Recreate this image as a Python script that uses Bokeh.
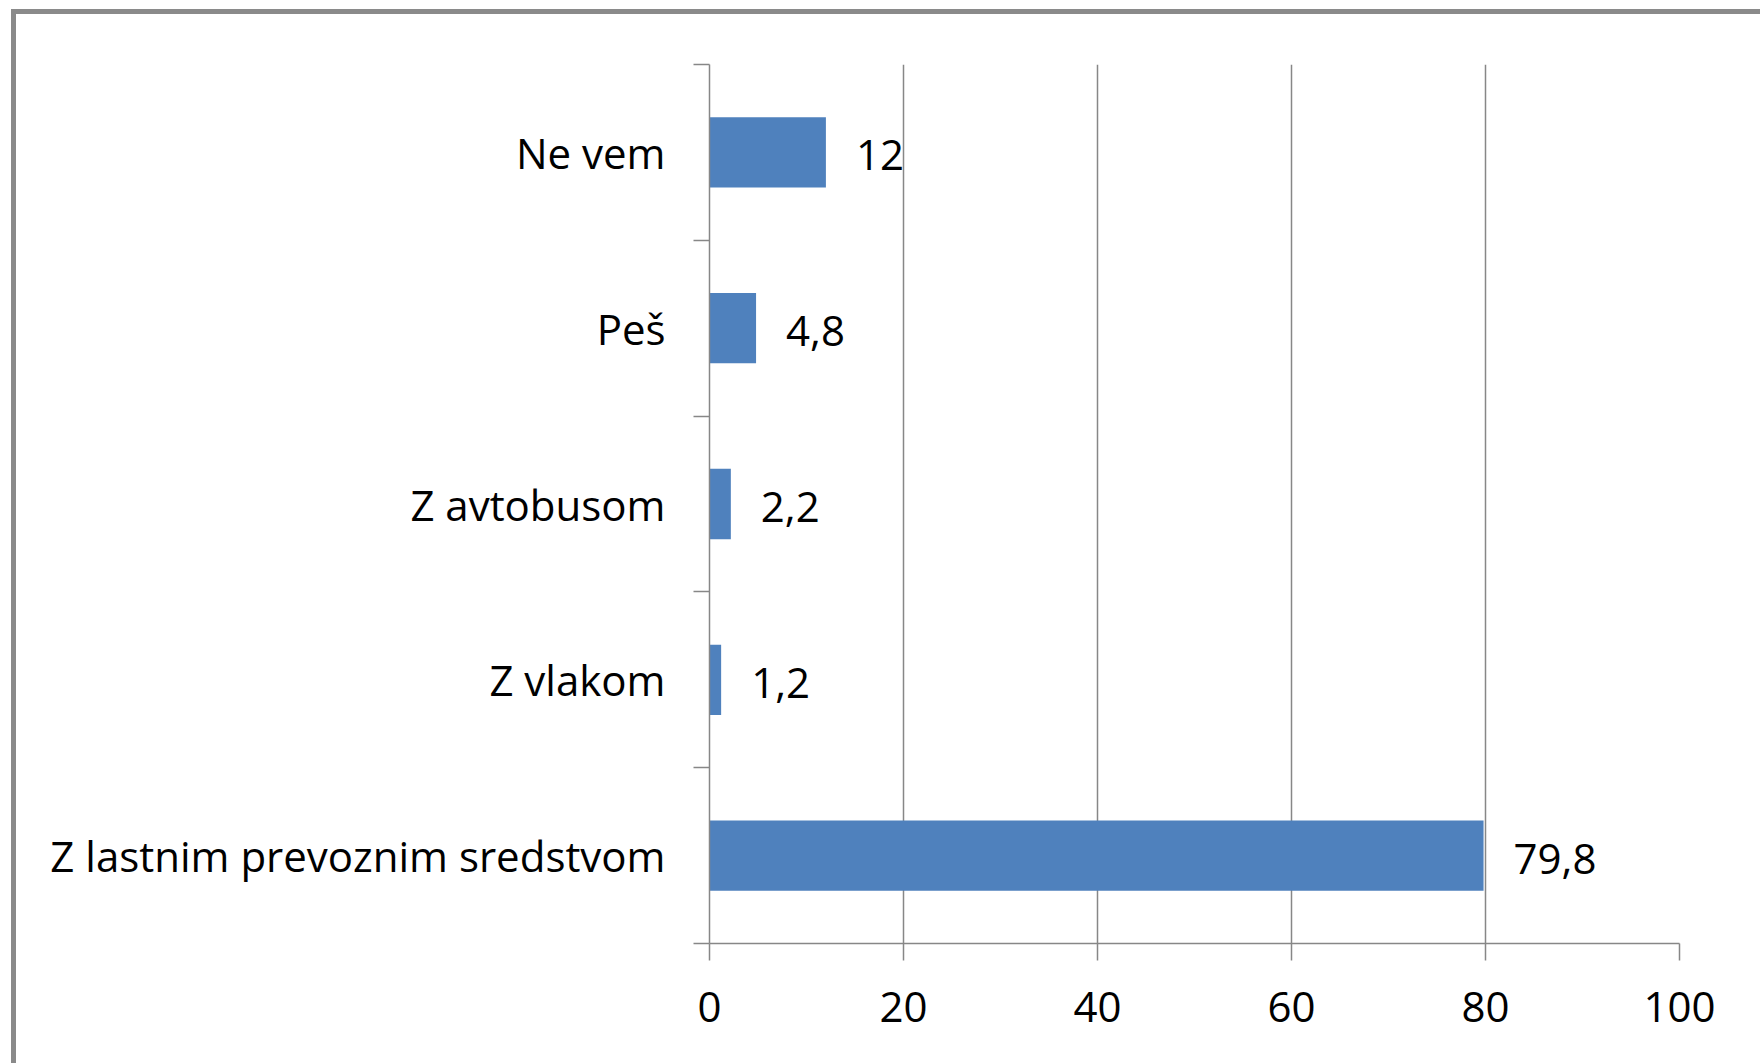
from bokeh.plotting import figure
from bokeh.models import FixedTicker, Range1d, ColumnDataSource, Spacer
from bokeh.layouts import column, row
from bokeh.embed import file_html
from bokeh.resources import INLINE
from bokeh.core.properties import value

# Data (bottom to top)
categories = ["Z lastnim prevoznim sredstvom", "Z vlakom", "Z avtobusom", "Peš", "Ne vem"]
values = [79.8, 1.2, 2.2, 4.8, 12]
value_labels = ["79,8", "1,2", "2,2", "4,8", "12"]
x_ticks = [0, 20, 40, 60, 80, 100]

FONT = "Open Sans"
FS = "42px"
GREY = "#878787"
BORDER = "#8a8a8a"

W, H = 1736, 1040

pos = [i + 0.5 for i in range(len(categories))]
bounds = list(range(len(categories) + 1))

src = ColumnDataSource(dict(y=pos, v=values, lab=value_labels, cat=categories))

p = figure(width=W, height=H,
           x_range=Range1d(0, 100), y_range=Range1d(0, len(categories)),
           output_backend="svg", toolbar_location=None,
           min_border_left=693, min_border_right=73,
           min_border_top=50, min_border_bottom=111)

p.outline_line_color = None
p.background_fill_color = "white"
p.border_fill_color = "white"

p.hbar(y="y", left=0, right="v", height=0.4, source=src,
       fill_color="#4F81BD", line_color=None)

p.text(x="v", y="y", text="lab", source=src, x_offset=30, y_offset=3,
       text_baseline="middle", text_align="left",
       text_font=value(FONT), text_font_size=FS, text_color="#000000")

# Y axis: ticks at category boundaries, labels at centres
p.yaxis.ticker = FixedTicker(ticks=pos, minor_ticks=bounds)
p.yaxis.major_label_overrides = {pv: c for pv, c in zip(pos, categories)}
p.yaxis.major_tick_line_color = None
p.yaxis.major_tick_out = 0
p.yaxis.major_tick_in = 0
p.yaxis.minor_tick_out = 16
p.yaxis.minor_tick_in = 0
p.yaxis.minor_tick_line_color = GREY
p.yaxis.minor_tick_line_width = 1.5
p.yaxis.axis_line_color = GREY
p.yaxis.axis_line_width = 1.5
p.yaxis.major_label_standoff = 28
p.yaxis.major_label_text_font = FONT
p.yaxis.major_label_text_font_size = FS
p.yaxis.major_label_text_color = "#000000"

# X axis
p.xaxis.ticker = FixedTicker(ticks=x_ticks, minor_ticks=[])
p.xaxis.major_tick_out = 17
p.xaxis.major_tick_in = 0
p.xaxis.major_tick_line_color = GREY
p.xaxis.major_tick_line_width = 1.5
p.xaxis.axis_line_color = GREY
p.xaxis.axis_line_width = 1.5
p.xaxis.major_label_standoff = 31
p.xaxis.major_label_text_font = FONT
p.xaxis.major_label_text_font_size = FS
p.xaxis.major_label_text_color = "#000000"

p.ygrid.grid_line_color = None
p.xgrid.ticker = FixedTicker(ticks=x_ticks, minor_ticks=[])
p.xgrid.grid_line_color = GREY
p.xgrid.grid_line_width = 1.5

# Outer chart frame (grey border on the top and left edges, cut by the window)
top_border = Spacer(width=W + 8, height=5, background=BORDER)
left_border = Spacer(width=5, height=H + 14, background=BORDER)
inner = row(left_border, column(top_border, p))
layout = column(Spacer(height=9, width=10), row(Spacer(width=11, height=10), inner))

open("out.html", "w").write(file_html(layout, INLINE))
